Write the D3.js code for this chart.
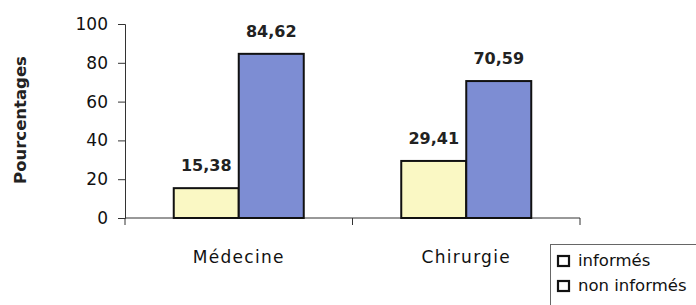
<!DOCTYPE html>
<html>
<head>
<meta charset="utf-8">
<script src="https://d3js.org/d3.v7.min.js"></script>
<style>
  body { margin: 0; background: #fff; }
  svg { display: block; }
</style>
</head>
<body>
<script>
const categories = ['Médecine', 'Chirurgie'];
const series = ['informés', 'non informés'];
const informes = [15.38, 29.41];
const nonInformes = [84.62, 70.59];
const yTicks = [0, 20, 40, 60, 80, 100];

const width = 696, height = 305;
const colors = ['#faf8c4', '#7d8dd3'];
const fontFamily = '"DejaVu Sans", sans-serif';

let svg = d3.select(document.body).append('svg')
  .attr('width', width)
  .attr('height', height);

let x = d3.scaleBand()
  .domain(categories)
  .range([125, 580])
  .padding(0);

let xInner = d3.scaleBand()
  .domain(series)
  .range([0, x.bandwidth()])
  .paddingInner(0)
  .paddingOuter(0.75);

let y = d3.scaleLinear()
  .domain([0, 100])
  .range([218, 24]);

// rows of the table the bars are drawn from
let rows = [];
categories.forEach((c, i) => {
  rows.push({ cat: c, series: series[0], value: informes[i] });
  rows.push({ cat: c, series: series[1], value: nonInformes[i] });
});

// y axis
let yAxis = svg.append('g')
  .attr('transform', 'translate(125,0)')
  .call(d3.axisLeft(y).tickValues(yTicks).tickSize(7).tickPadding(10));
yAxis.select('.domain').attr('stroke', '#333');
yAxis.selectAll('.tick line').attr('stroke', '#333');
yAxis.selectAll('text')
  .style('font', '17px ' + fontFamily)
  .attr('fill', '#111');

// x axis
let xAxis = svg.append('g')
  .attr('transform', 'translate(0,218)');
xAxis.append('line')
  .attr('x1', x.range()[0]).attr('x2', x.range()[1])
  .attr('stroke', '#333');
xAxis.selectAll('line.tick')
  .data([...categories.map(c => x(c)), x.range()[1]])
  .join('line')
    .attr('class', 'tick')
    .attr('x1', d => d).attr('x2', d => d)
    .attr('y1', 0).attr('y2', 7)
    .attr('stroke', '#333');
xAxis.selectAll('text')
  .data(categories)
  .join('text')
    .attr('x', d => x(d) + x.bandwidth() / 2)
    .attr('y', 45)
    .attr('text-anchor', 'middle')
    .style('font', '17px ' + fontFamily)
    .style('letter-spacing', '1.3px')
    .attr('fill', '#111')
    .text(d => d);

// y title
svg.append('text')
  .attr('transform', 'translate(26,120) rotate(-90)')
  .attr('text-anchor', 'middle')
  .style('font', 'bold 16.5px ' + fontFamily)
  .attr('fill', '#222')
  .text('Pourcentages');

// bars
svg.append('g')
  .selectAll('rect')
  .data(rows)
  .join('rect')
    .attr('x', d => x(d.cat) + xInner(d.series))
    .attr('y', d => y(d.value))
    .attr('width', xInner.bandwidth())
    .attr('height', d => y(0) - y(d.value))
    .attr('fill', d => colors[series.indexOf(d.series)])
    .attr('stroke', '#111')
    .attr('stroke-width', 2);

// value labels
svg.append('g')
  .selectAll('text')
  .data(rows)
  .join('text')
    .attr('x', d => x(d.cat) + xInner(d.series) + xInner.bandwidth() / 2)
    .attr('y', d => y(d.value) - 17)
    .attr('text-anchor', 'middle')
    .style('font', 'bold 16px ' + fontFamily)
    .attr('fill', '#222')
    .text(d => d3.format('.2f')(d.value).replace('.', ','));

// legend
let legend = svg.append('g').attr('transform', 'translate(550,244)');
legend.append('rect')
  .attr('x', 0.5).attr('y', 0.5)
  .attr('width', 160).attr('height', 70)
  .attr('fill', '#fff')
  .attr('stroke', '#666');
let item = legend.selectAll('g.item')
  .data(series)
  .join('g')
    .attr('class', 'item')
    .attr('transform', (d, i) => `translate(8,${22 + i * 25})`);
item.append('rect')
  .attr('x', 0).attr('y', -10)
  .attr('width', 11).attr('height', 10)
  .attr('fill', '#fff')
  .attr('stroke', '#111')
  .attr('stroke-width', 2.2);
item.append('text')
  .attr('x', 20)
  .attr('y', 0)
  .style('font', '16.5px ' + fontFamily)
  .attr('fill', '#111')
  .text(d => d);
</script>
</body>
</html>
